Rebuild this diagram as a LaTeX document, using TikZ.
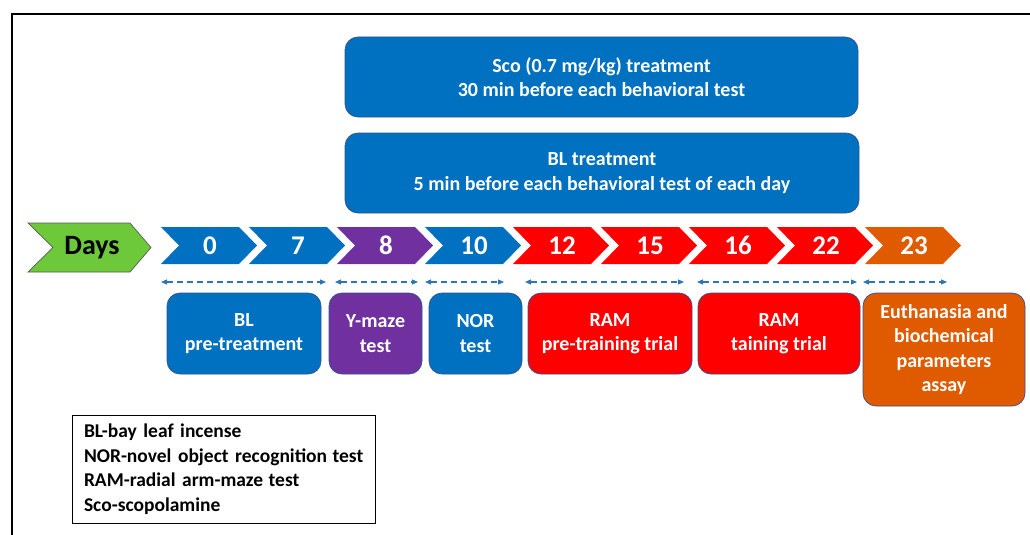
\documentclass[tikz,border=0pt]{standalone}
\usepackage{fontspec}
\setmainfont{Carlito}
\usetikzlibrary{arrows.meta}
\definecolor{cblue}{HTML}{0070C0}
\definecolor{cpurple}{HTML}{7030A0}
\definecolor{cred}{HTML}{FF0000}
\definecolor{corange}{HTML}{E05A00}
\definecolor{cgreen}{HTML}{6DC93A}
\definecolor{cedge}{HTML}{2F528F}
\definecolor{cdash}{HTML}{2E75B6}
\tikzset{
  box/.style={rounded corners=13pt, draw=cedge, line width=0.7pt, text=white,
    align=center, inner sep=0pt, font=\fontsize{20}{24.5}\selectfont\bfseries},
  daylabel/.style={text=white, font=\fontsize{27}{30}\selectfont\bfseries, inner sep=0pt},
  span/.style={draw=cdash, line width=1.1pt, dash pattern=on 6pt off 4pt,
    {Triangle[length=6pt,width=5pt]}-{Triangle[length=6pt,width=5pt]}},
  legend/.style={draw=black, line width=0.8pt, align=left, inner sep=0pt,
    font=\fontsize{19.5}{24.5}\selectfont\bfseries}
}
\begin{document}
\begin{tikzpicture}[x=1pt,y=-1pt]
\useasboundingbox (0,0) rectangle (1030,535);
% frame
\draw[line width=2pt] (12,536) -- (12,14) -- (1031,14);
% top boxes
\node[box, fill=cblue, minimum width=513pt, minimum height=80pt] (sco) at (601.5,77)
  {Sco (0.7 mg/kg) treatment\\30 min before each behavioral test};
\node[box, fill=cblue, minimum width=514pt, minimum height=80pt] (blt) at (602,173)
  {BL treatment\\5 min before each behavioral test of each day};
% Days arrow
\path[fill=cgreen, draw=black!65, line width=0.7pt]
  (28,223) -- (130,223) -- (151,247.5) -- (130,272) -- (28,272) -- (53,247.5) -- cycle;
\node[font=\fontsize{28}{30}\selectfont\bfseries, text=black, inner sep=0pt] (days) at (92,248) {Days};
% chevrons
\foreach \i/\lab/\col in {0/0/cblue, 1/7/cblue, 2/8/cpurple, 3/10/cblue, 4/12/cred, 5/15/cred, 6/16/cred, 7/22/cred, 8/23/corange}{
  \pgfmathsetmacro{\L}{161+88*\i}
  \path[fill=\col] (\L,227) -- ({\L+78},227) -- ({\L+96},245.5) -- ({\L+78},264) -- (\L,264) -- ({\L+18},245.5) -- cycle;
  \node[daylabel] (d\i) at ({\L+49},245.5) {\lab};
}
% spans
\coordinate (s1a) at (161,282); \coordinate (s1b) at (326,282);
\coordinate (s2a) at (335,282); \coordinate (s2b) at (418,282);
\coordinate (s3a) at (425,282); \coordinate (s3b) at (504,282);
\coordinate (s4a) at (525,282); \coordinate (s4b) at (684,282);
\coordinate (s5a) at (697,282); \coordinate (s5b) at (857,282);
\coordinate (s6a) at (863,282); \coordinate (s6b) at (947,282);
\foreach \k in {1,...,6}{\draw[span] (s\k a) -- (s\k b);}
% bottom boxes
\node[box, fill=cblue, minimum width=154pt, minimum height=81pt] (blpre) at (244,333.5) {BL\\pre-treatment};
\node[box, fill=cpurple, minimum width=93pt, minimum height=81pt] (ymaze) at (375.5,333.5) {Y-maze\\test};
\node[box, fill=cblue, minimum width=93pt, minimum height=81pt] (nor) at (475.5,333.5) {NOR\\test};
\node[box, fill=cred, minimum width=164pt, minimum height=81pt] (ram1) at (610,333.5) {RAM\\pre-training trial};
\node[box, fill=cred, minimum width=162pt, minimum height=81pt] (ram2) at (779,333.5) {RAM\\taining trial};
\node[box, fill=corange, minimum width=162pt, minimum height=113pt] (euth) at (944,349.5) {Euthanasia and\\biochemical\\parameters\\assay};
% legend
\node[legend, minimum width=303pt, minimum height=108pt, text width=295pt] (leg) at (223.5,469)
  {\hspace*{8pt}BL-bay leaf incense\\\hspace*{8pt}NOR-novel object recognition\kern-1pt\ test\\\hspace*{8pt}RAM-radial arm-maze\kern-1pt\ test\\\hspace*{8pt}Sco-scopolamine};
\end{tikzpicture}
\end{document}
